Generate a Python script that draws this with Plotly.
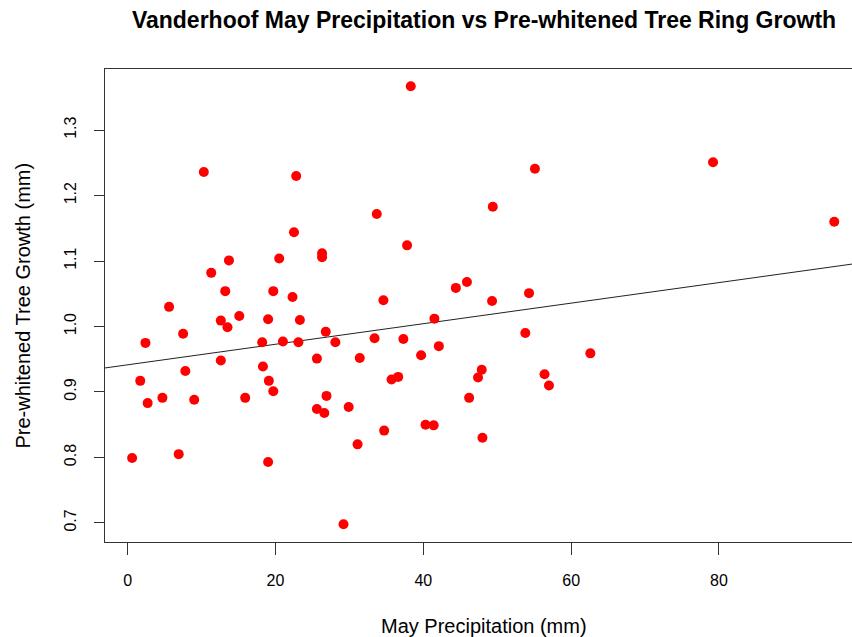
import plotly.graph_objects as go

precip = [10.3, 22.8, 33.7, 22.5, 26.3, 26.3, 13.7, 20.5, 11.3, 13.2,
          19.7, 22.3, 34.6, 5.6, 12.6, 15.1, 19.0, 23.3, 7.5, 13.5,
          2.4, 18.2, 21.0, 23.1, 26.8, 28.1, 33.4, 12.6, 25.6, 31.4,
          18.3, 1.7, 19.1, 7.8, 19.7, 26.9, 2.7, 4.7, 9.0, 15.9,
          25.6, 26.6, 29.9, 34.7, 31.1, 0.6, 6.9, 19.0, 29.2, 38.3,
          55.1, 49.4, 37.8, 44.4, 45.9, 54.3, 49.3, 41.5, 53.8, 37.3,
          42.1, 39.7, 62.6, 35.7, 36.6, 47.9, 47.4, 56.4, 57.0, 46.2,
          40.3, 41.4, 48.0, 79.2, 95.6]
growth = [1.236, 1.230, 1.172, 1.144, 1.112, 1.106, 1.101, 1.104, 1.082, 1.054,
          1.054, 1.045, 1.040, 1.030, 1.009, 1.016, 1.011, 1.010, 0.989, 0.999,
          0.975, 0.976, 0.977, 0.976, 0.992, 0.976, 0.982, 0.948, 0.951, 0.952,
          0.939, 0.917, 0.917, 0.932, 0.901, 0.894, 0.883, 0.891, 0.888, 0.891,
          0.874, 0.868, 0.877, 0.841, 0.820, 0.799, 0.805, 0.793, 0.698, 1.367,
          1.241, 1.183, 1.124, 1.059, 1.068, 1.051, 1.039, 1.012, 0.990, 0.981,
          0.970, 0.956, 0.959, 0.919, 0.923, 0.934, 0.922, 0.927, 0.910, 0.891,
          0.850, 0.849, 0.830, 1.251, 1.160]

fit_intercept = 0.9415
fit_slope = 0.00157
line_x = [-10, 110]
line_y = [fit_intercept + fit_slope * v for v in line_x]

x_ticks = [0, 20, 40, 60, 80]
y_ticks = [0.7, 0.8, 0.9, 1.0, 1.1, 1.2, 1.3]

fig = go.Figure()
fig.add_trace(go.Scatter(x=line_x, y=line_y, mode="lines",
                         line=dict(color="#222222", width=1), hoverinfo="skip"))
fig.add_trace(go.Scatter(x=precip, y=growth, mode="markers",
                         marker=dict(color="#ff0000", size=10, line=dict(width=0))))

font_main = "Liberation Sans, Arial, sans-serif"
L, R, T, B = 105, 0, 69, 95
W, H = 852, 637
fig.update_layout(
    width=W, height=H,
    margin=dict(l=L, r=R, t=T, b=B),
    paper_bgcolor="white", plot_bgcolor="white",
    showlegend=False,
    font=dict(family=font_main, color="black"),
    title=dict(text="<b>Vanderhoof May Precipitation vs Pre-whitened Tree Ring Growth</b>",
               x=484 / W, xref="container", xanchor="center",
               y=1 - 20 / H, yref="container", yanchor="middle",
               font=dict(size=23, family=font_main, color="black")),
)
fig.update_xaxes(range=[-3.07, 98.0], tickvals=x_ticks, ticktext=[str(v) for v in x_ticks],
                 showgrid=False, zeroline=False, showline=True, linecolor="#333333", linewidth=1,
                 mirror=True, ticks="outside", ticklen=12, tickcolor="#333333",
                 tickfont=dict(size=16), ticklabelstandoff=12)
fig.update_yaxes(range=[0.6708, 1.3934], tickvals=y_ticks, ticktext=[f"{v:.1f}" for v in y_ticks],
                 showgrid=False, zeroline=False, showline=True, linecolor="#333333", linewidth=1,
                 mirror=False, ticks="outside", ticklen=10, tickcolor="#333333",
                 tickangle=-90, tickfont=dict(size=16), ticklabelstandoff=12)

fig.add_annotation(text="May Precipitation (mm)", xref="paper", yref="paper",
                   x=(484 - L) / (W - L - R), y=-(626 - (H - B)) / (H - T - B),
                   xanchor="center", yanchor="middle", showarrow=False,
                   font=dict(size=20, family=font_main, color="black"))
fig.add_annotation(text="Pre-whitened Tree Growth (mm)", xref="paper", yref="paper",
                   x=-(L - 22) / (W - L - R), y=0.5, textangle=-90,
                   xanchor="center", yanchor="middle", showarrow=False,
                   font=dict(size=20, family=font_main, color="black"))

fig.write_html("out.html")
